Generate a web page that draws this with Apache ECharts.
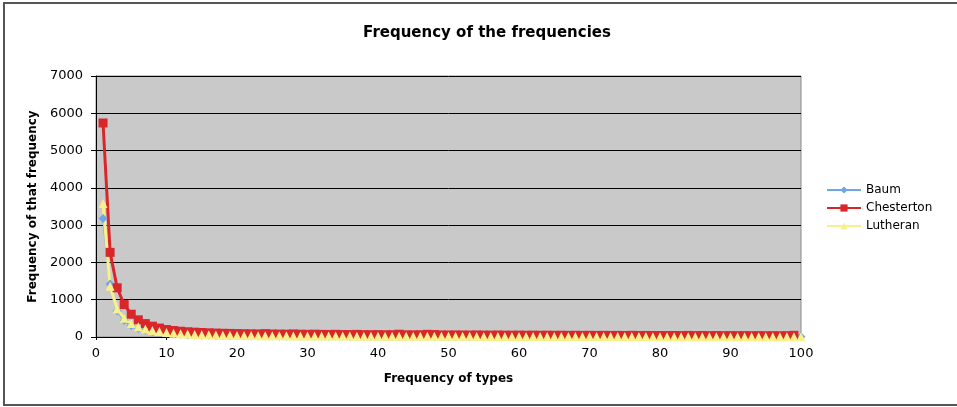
<!DOCTYPE html>
<html>
<head>
<meta charset="utf-8">
<script src="https://cdn.jsdelivr.net/npm/echarts@6/dist/echarts.min.js"></script>
<style>
html,body{margin:0;padding:0;background:#fff;}
#c{width:957px;height:407px;}
</style>
</head>
<body>
<div id="c"></div>
<script>
var titleText = "Frequency of the frequencies";
var xAxisName = "Frequency of types";
var yAxisName = "Frequency of that frequency";
var seriesNames = ["Baum", "Chesterton", "Lutheran"];

var baum = [3180, 1420, 700, 440, 310, 230, 180, 145, 118, 98,
  83, 72, 63, 56, 50, 45, 41, 37, 34, 31,
  29, 28, 26, 25, 24, 23, 22, 21, 21, 20,
  19, 19, 18, 17, 17, 16, 16, 15, 15, 15,
  14, 14, 13, 13, 13, 12, 12, 12, 11, 11,
  11, 11, 10, 10, 10, 10, 9, 9, 9, 9,
  9, 8, 8, 8, 8, 8, 8, 7, 7, 7,
  7, 7, 7, 6, 6, 6, 6, 6, 6, 6,
  6, 5, 5, 5, 5, 5, 5, 5, 5, 5,
  4, 4, 4, 4, 4, 4, 4, 4, 4, 4];

var chesterton = [5740, 2270, 1320, 870, 610, 460, 360, 290, 240, 200,
  175, 155, 140, 130, 120, 112, 105, 100, 96, 92,
  88, 85, 82, 90, 80, 78, 76, 82, 74, 72,
  75, 70, 68, 72, 66, 65, 70, 63, 62, 64,
  60, 62, 75, 58, 57, 60, 72, 66, 55, 54,
  56, 53, 52, 55, 51, 50, 53, 49, 48, 50,
  47, 49, 46, 48, 45, 47, 44, 46, 43, 45,
  42, 44, 42, 43, 41, 45, 40, 42, 40, 41,
  39, 41, 38, 42, 38, 40, 37, 39, 36, 38,
  36, 37, 35, 37, 34, 36, 34, 35, 45];

var lutheran = [3580, 1360, 750, 500, 360, 275, 215, 175, 145, 120,
  100, 88, 78, 70, 63, 57, 52, 48, 45, 42,
  40, 38, 36, 35, 33, 32, 31, 30, 29, 28,
  27, 27, 26, 25, 25, 24, 23, 23, 22, 22,
  21, 21, 20, 20, 20, 19, 19, 18, 18, 18,
  17, 17, 17, 16, 16, 16, 15, 15, 15, 15,
  14, 14, 14, 14, 13, 13, 13, 13, 12, 12,
  12, 12, 12, 11, 11, 11, 11, 11, 10, 10,
  10, 10, 10, 10, 9, 9, 9, 9, 9, 9,
  8, 8, 8, 8, 8, 8, 8, 7, 7, 7];

function pairs(arr) {
  return arr.map(function (v, i) { return [i + 1, v]; });
}

var font = "'DejaVu Sans', Verdana, sans-serif";
var chart = echarts.init(document.getElementById('c'), null, {renderer: 'canvas'});
chart.setOption({
  animation: false,
  backgroundColor: '#ffffff',
  title: {
    text: titleText,
    left: 482, top: 21, textAlign: 'center',
    textStyle: {fontFamily: font, fontSize: 15, fontWeight: 'bold', color: '#000'}
  },
  graphic: [{
    type: 'rect', z: -1,
    shape: {x: 4, y: 3, width: 960, height: 402},
    style: {fill: 'none', stroke: '#555555', lineWidth: 2}
  }],
  legend: {
    orient: 'vertical', left: 821, top: 179,
    itemWidth: 34, itemHeight: 9, itemGap: 6,
    textStyle: {fontFamily: font, fontSize: 12, color: '#000'},
    data: seriesNames
  },
  grid: {
    left: 96, right: 156, top: 76, bottom: 70,
    show: true, backgroundColor: '#c9c9c9', borderColor: '#8a8a8a', borderWidth: 1
  },
  xAxis: {
    type: 'value', min: 0, max: 100, interval: 10,
    name: xAxisName, nameLocation: 'middle', nameGap: 36,
    nameTextStyle: {fontFamily: font, fontSize: 12, fontWeight: 'bold', color: '#000'},
    axisLine: {show: true, lineStyle: {color: '#000', width: 1}},
    axisTick: {show: true, length: 3, lineStyle: {color: '#000'}},
    axisLabel: {fontFamily: font, fontSize: 13, color: '#000', margin: 10},
    splitLine: {show: false}
  },
  yAxis: {
    type: 'value', min: 0, max: 7000, interval: 1000,
    name: yAxisName, nameLocation: 'middle', nameGap: 57, nameRotate: 90,
    nameTextStyle: {fontFamily: font, fontSize: 12, fontWeight: 'bold', color: '#000'},
    axisLine: {show: true, lineStyle: {color: '#000', width: 1}},
    axisTick: {show: true, length: 5, lineStyle: {color: '#000'}},
    axisLabel: {fontFamily: font, fontSize: 13, color: '#000', margin: 13,
      formatter: function (v) { return String(v); }},
    splitLine: {show: true, lineStyle: {color: '#000', width: 1}}
  },
  series: [
    {
      name: seriesNames[0], type: 'line', data: pairs(baum),
      symbol: 'diamond', symbolSize: 9, showAllSymbol: true,
      itemStyle: {color: '#6ea6e6'}, lineStyle: {color: '#6ea6e6', width: 2}
    },
    {
      name: seriesNames[1], type: 'line', data: pairs(chesterton),
      symbol: 'rect', symbolSize: 9, showAllSymbol: true,
      itemStyle: {color: '#d9262b'}, lineStyle: {color: '#d9262b', width: 3}
    },
    {
      name: seriesNames[2], type: 'line', data: pairs(lutheran),
      symbol: 'triangle', symbolSize: 9, showAllSymbol: true,
      itemStyle: {color: '#f8f08a'}, lineStyle: {color: '#f8f08a', width: 3}
    }
  ]
});
</script>
</body>
</html>
